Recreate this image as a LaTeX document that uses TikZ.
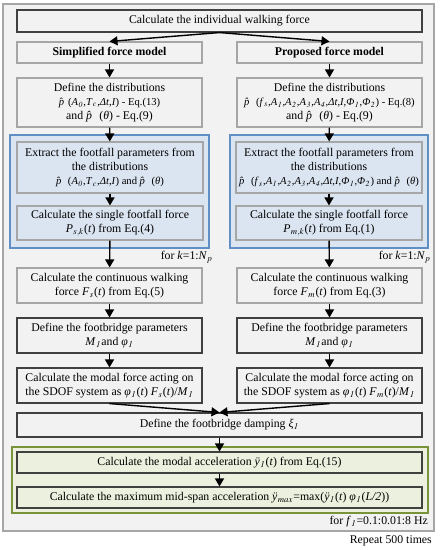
\documentclass[tikz,border=0pt]{standalone}
\usepackage{mathptmx}
\usepackage{fontspec}
\setmainfont{Liberation Serif}
\usepackage{tikz}
\usetikzlibrary{arrows.meta}
\definecolor{bgGrey}{HTML}{F2F2F2}
\definecolor{lineGrey}{HTML}{A6A6A6}
\definecolor{lineDark}{HTML}{404040}
\definecolor{blueFill}{HTML}{DBE5F1}
\definecolor{blueLine}{HTML}{5F8FC4}
\definecolor{greenFill}{HTML}{EBF1DE}
\definecolor{greenLine}{HTML}{77933C}
\newcommand{\phat}{\textit{p̂}}
\newcommand{\yddot}{\textit{ÿ}}
\newcommand{\sbi}[1]{\kern0.4pt$_{\mathit{#1}}$\kern0.4pt}
\newcommand{\eqfont}{\fontsize{10.6}{14}\selectfont}
\tikzstyle{box} = [rectangle, draw=lineGrey, fill=bgGrey, line width=1.1pt, inner sep=0pt, align=center, font=\fontsize{11.8}{14}\selectfont]
\tikzstyle{darkbox} = [box, draw=lineDark]
\tikzstyle{bluebox} = [box, fill=blueFill]
\tikzstyle{greenbox} = [box, draw=lineDark, fill=greenFill]
\tikzstyle{bluegroup} = [rectangle, draw=blueLine, fill=blueFill, line width=1.3pt, inner sep=0pt]
\tikzstyle{greengroup} = [rectangle, draw=greenLine, fill=greenFill, line width=1.3pt, inner sep=0pt]
\tikzstyle{frame} = [rectangle, draw=lineGrey, fill=bgGrey, line width=1.3pt, inner sep=0pt]
\tikzstyle{note} = [anchor=east, inner sep=0pt, font=\fontsize{11.8}{14}\selectfont]
\tikzstyle{arrow} = [line width=1.4pt, ->, >={Triangle[length=8pt,width=9pt]}, draw=black]

\begin{document}
\begin{tikzpicture}[x=1pt, y=-1pt]
    \useasboundingbox (0,0) rectangle (440,550);
    % frames and groups
    \node (outer) [frame, minimum width=431, minimum height=527] at (218.5,267.5) {};
    \node (grpL) [bluegroup, minimum width=199, minimum height=113] at (109.5,191.5) {};
    \node (grpR) [bluegroup, minimum width=198, minimum height=113] at (329,191.5) {};
    \node (grpG) [greengroup, minimum width=416, minimum height=66] at (220,480) {};

    \node (top) [darkbox, minimum width=405, minimum height=22] at (219.5,21) {Calculate the individual walking force};

    % simplified model
    \node (simp) [box, minimum width=185, minimum height=21] at (109.5,52.5) {\textbf{Simplified force model}};
    \node (defL) [box, minimum width=185, minimum height=49] at (109.5,102.5) {Define the distributions\\ {\eqfont\phat(\textit{A}\sbi{0},\textit{T}\sbi{c},\textit{Δt},\textit{I}) - Eq.(13)}\\ and \phat\ (\textit{θ}) - Eq.(9)};
    \node (extL) [bluebox, minimum width=186, minimum height=51] at (110,167.5) {Extract the footfall parameters from\\ the distributions\\ {\eqfont\phat\ (\textit{A}\sbi{0},\textit{T}\sbi{c},\textit{Δt},\textit{I}) and \phat\ (\textit{θ})}};
    \node (singL) [bluebox, minimum width=186, minimum height=34] at (110,223) {Calculate the single footfall force\\ \textit{P}\sbi{s,k}(\textit{t}) from Eq.(4)};
    \node (forkL) [note] at (213,257) {for \textit{k}=1:\textit{N}\sbi{p}};
    \node (contL) [box, minimum width=185, minimum height=35] at (109.5,285.5) {Calculate the continuous walking\\ force \textit{F}\sbi{s}(\textit{t}) from Eq.(5)};
    \node (parL) [darkbox, minimum width=185, minimum height=35] at (109.5,335.5) {Define the footbridge parameters\\ \textit{M}\sbi{1} and \textit{φ}\sbi{1}};
    \node (modL) [darkbox, minimum width=185, minimum height=35] at (109.5,385.5) {Calculate the modal force acting on\\ the SDOF system as \textit{φ}\sbi{1}(\textit{t}) \textit{F}\sbi{s}(\textit{t})/\textit{M}\sbi{1}};

    % proposed model
    \node (prop) [box, minimum width=185, minimum height=21] at (329.5,52.5) {\textbf{Proposed force model}};
    \node (defR) [box, minimum width=185, minimum height=49] at (329.5,102.5) {Define the distributions\\ {\eqfont\phat\ (\textit{f}\sbi{s},\textit{A}\sbi{1},\textit{A}\sbi{2},\textit{A}\sbi{3},\textit{A}\sbi{4},\textit{Δt},\textit{I},\textit{Φ}\sbi{1},\textit{Φ}\sbi{2}) - Eq.(8)}\\ and \phat\ (\textit{θ}) - Eq.(9)};
    \node (extR) [bluebox, minimum width=186, minimum height=51] at (329,167.5) {Extract the footfall parameters from\\ the distributions\\ {\eqfont\phat\ (\textit{f}\sbi{s},\textit{A}\sbi{1},\textit{A}\sbi{2},\textit{A}\sbi{3},\textit{A}\sbi{4},\textit{Δt},\textit{I},\textit{Φ}\sbi{1},\textit{Φ}\sbi{2}) and \phat\ (\textit{θ})}};
    \node (singR) [bluebox, minimum width=186, minimum height=34] at (329,223) {Calculate the single footfall force\\ \textit{P}\sbi{m,k}(\textit{t}) from Eq.(1)};
    \node (forkR) [note] at (431,257) {for \textit{k}=1:\textit{N}\sbi{p}};
    \node (contR) [box, minimum width=185, minimum height=35] at (329.5,285.5) {Calculate the continuous walking\\ force \textit{F}\sbi{m}(\textit{t}) from Eq.(3)};
    \node (parR) [darkbox, minimum width=185, minimum height=35] at (329.5,335.5) {Define the footbridge parameters\\ \textit{M}\sbi{1} and \textit{φ}\sbi{1}};
    \node (modR) [darkbox, minimum width=185, minimum height=35] at (329.5,385.5) {Calculate the modal force acting on\\ the SDOF system as \textit{φ}\sbi{1}(\textit{t}) \textit{F}\sbi{m}(\textit{t})/\textit{M}\sbi{1}};

    % common part
    \node (damp) [darkbox, minimum width=405, minimum height=24] at (219.5,425) {Define the footbridge damping \textit{ξ}\sbi{1}};
    \node (acc) [greenbox, minimum width=405, minimum height=21] at (219.5,462.5) {Calculate the modal acceleration \yddot\sbi{1} (\textit{t}) from Eq.(15)};
    \node (maxa) [greenbox, minimum width=405, minimum height=21] at (219.5,497.5) {Calculate the maximum mid-span acceleration \yddot\sbi{max}=max(\yddot\sbi{1} (\textit{t}) \textit{φ}\sbi{1}(\textit{L/2}))};
    \node (forf) [note] at (428,522) {for \textit{f}\sbi{1}=0.1:0.01:8 Hz};
    \node (rep) [note] at (432,541) {Repeat 500 times};

    \draw [arrow] (top.south) -- (simp.north);
    \draw [arrow] (top.south) -- (prop.north);
    \draw [arrow] (simp) -- (defL);
    \draw [arrow] (defL) -- (extL);
    \draw [arrow] (extL) -- (singL);
    \draw [arrow] (singL) -- (contL);
    \draw [arrow] (contL) -- (parL);
    \draw [arrow] (parL) -- (modL);
    \draw [arrow] (prop) -- (defR);
    \draw [arrow] (defR) -- (extR);
    \draw [arrow] (extR) -- (singR);
    \draw [arrow] (singR) -- (contR);
    \draw [arrow] (contR) -- (parR);
    \draw [arrow] (parR) -- (modR);
    \draw [arrow] (modL.south) -- (damp.north);
    \draw [arrow] (modR.south) -- (damp.north);
    \draw [arrow] (damp) -- (acc);
    \draw [arrow] (acc) -- (maxa);
\end{tikzpicture}
\end{document}
